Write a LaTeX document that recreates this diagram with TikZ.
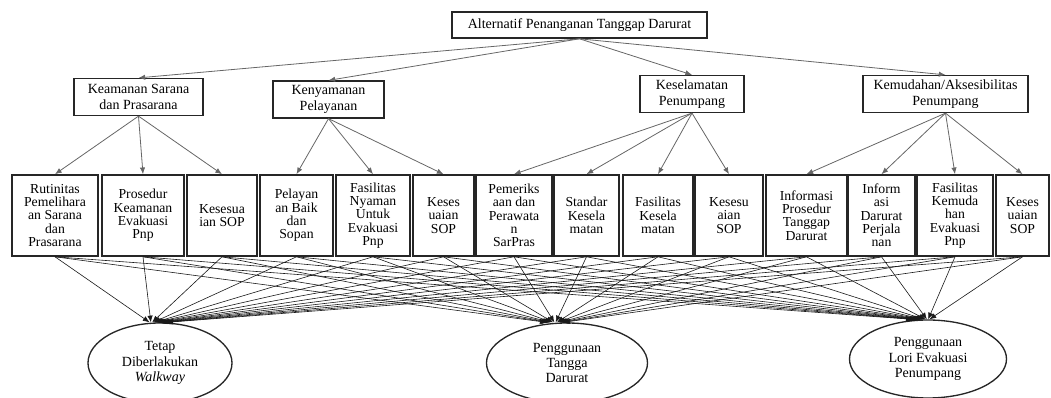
\documentclass[tikz,border=0pt]{standalone}
\usepackage{fontspec}
\setmainfont{Liberation Serif}
\usetikzlibrary{positioning, arrows.meta, shapes.geometric}
\tikzset{
  goal/.style={draw=black!85, line width=1.2pt, rectangle, minimum width=191pt, minimum height=19.5pt, align=center, font=\fontsize{10.5}{11.5}\selectfont},
  crit/.style={draw=black!85, line width=1.2pt, rectangle, minimum height=27.5pt, inner sep=1pt, align=center, font=\fontsize{10.5}{11.5}\selectfont},
  sub/.style={draw=black!85, line width=1.2pt, rectangle, minimum height=60.75pt, inner sep=1pt, align=center, font=\fontsize{10.3}{10}\selectfont},
  alt/.style={draw=black!85, line width=1pt, ellipse, inner sep=0pt, align=center, font=\fontsize{10.5}{11.5}\selectfont},
  link/.style={draw=black!60, line width=0.6pt, -{Latex[length=5pt,width=4pt]}},
  vote/.style={draw=black!90, line width=0.45pt, -{Latex[length=5pt,width=4pt]}}
}

\begin{document}
\begin{tikzpicture}[x=0.75pt, y=-0.75pt]
  \useasboundingbox (0,0) rectangle (1051,398);

  % Goal
  \node[goal] (goal) at (579.5,25) {Alternatif Penanganan Tanggap Darurat};

  % Criteria
  \node[crit, minimum width=96.75pt] (c1) at (138.5,97) {Keamanan Sarana\\dan Prasarana};
  \node[crit, minimum width=83.25pt] (c2) at (328.5,99.5) {Kenyamanan\\Pelayanan};
  \node[crit, minimum width=78pt] (c3) at (692,94) {Keselamatan\\Penumpang};
  \node[crit, minimum width=123.75pt] (c4) at (945.5,94) {Kemudahan/Aksesibilitas\\Penumpang};

  % Sub criteria
  \node[sub, minimum width=64.5pt] (s1) at (55,215.5) {Rutinitas\\Pemelihara\\an Sarana\\dan\\Prasarana};
  \node[sub, minimum width=61.5pt] (s2) at (143,215.5) {Prosedur\\Keamanan\\Evakuasi\\Pnp};
  \node[sub, minimum width=52.5pt] (s3) at (222,215.5) {Kesesua\\ian SOP};
  \node[sub, minimum width=54.75pt] (s4) at (296.5,215.5) {Pelayan\\an Baik\\dan\\Sopan};
  \node[sub, minimum width=55.5pt] (s5) at (373,215.5) {Fasilitas\\Nyaman\\Untuk\\Evakuasi\\Pnp};
  \node[sub, minimum width=45.75pt] (s6) at (443.5,215.5) {Keses\\uaian\\SOP};
  \node[sub, minimum width=57pt] (s7) at (514,215.5) {Pemeriks\\aan dan\\Perawata\\n\\SarPras};
  \node[sub, minimum width=48.75pt] (s8) at (586.5,215.5) {Standar\\Kesela\\matan};
  \node[sub, minimum width=52.5pt] (s9) at (658,215.5) {Fasilitas\\Kesela\\matan};
  \node[sub, minimum width=51pt] (s10) at (729,215.5) {Kesesu\\aian\\SOP};
  \node[sub, minimum width=60.75pt] (s11) at (806.5,215.5) {Informasi\\Prosedur\\Tanggap\\Darurat};
  \node[sub, minimum width=50.25pt] (s12) at (881.5,215.5) {Inform\\asi\\Darurat\\Perjala\\nan};
  \node[sub, minimum width=57pt] (s13) at (955,215.5) {Fasilitas\\Kemuda\\han\\Evakuasi\\Pnp};
  \node[sub, minimum width=39.75pt] (s14) at (1022.5,215.5) {Keses\\uaian\\SOP};

  % Alternatives
  \node[alt, minimum width=108pt, minimum height=60pt] (a1) at (160,363) {Tetap\\Diberlakukan\\\textit{Walkway}};
  \node[alt, minimum width=120.75pt, minimum height=60pt] (a2) at (567,363) {Penggunaan\\Tangga\\Darurat};
  \node[alt, minimum width=117.75pt, minimum height=58.5pt] (a3) at (928,359) {Penggunaan\\Lori Evakuasi\\Penumpang};

  % Goal to criteria
  \draw[link] (goal.south) -- (c1.north);
  \draw[link] (goal.south) -- (c2.north);
  \draw[link] (goal.south) -- (c3.north);
  \draw[link] (goal.south) -- (c4.north);

  % Criteria to sub criteria
  \draw[link] (c1.south) -- (s1.north);
  \draw[link] (c1.south) -- (s2.north);
  \draw[link] (c1.south) -- (s3.north);
  \draw[link] (c2.south) -- (s4.north);
  \draw[link] (c2.south) -- (s5.north);
  \draw[link] (c2.south) -- (s6.north);
  \draw[link] (c3.south) -- (s7.north);
  \draw[link] (c3.south) -- (s8.north);
  \draw[link] (c3.south) -- (s9.north);
  \draw[link] (c3.south) -- (s10.north);
  \draw[link] (c4.south) -- (s11.north);
  \draw[link] (c4.south) -- (s12.north);
  \draw[link] (c4.south) -- (s13.north);
  \draw[link] (c4.south) -- (s14.north);

  % Sub criteria to alternatives
  \foreach \s in {1,...,14}
    \foreach \a/\c in {1/-2, 2/-12, 3/-7}
      \draw[vote] (s\s.south) -- ([xshift={(\c+(\s-7.5)*1.3)*0.75pt}]a\a.north);
\end{tikzpicture}
\end{document}
